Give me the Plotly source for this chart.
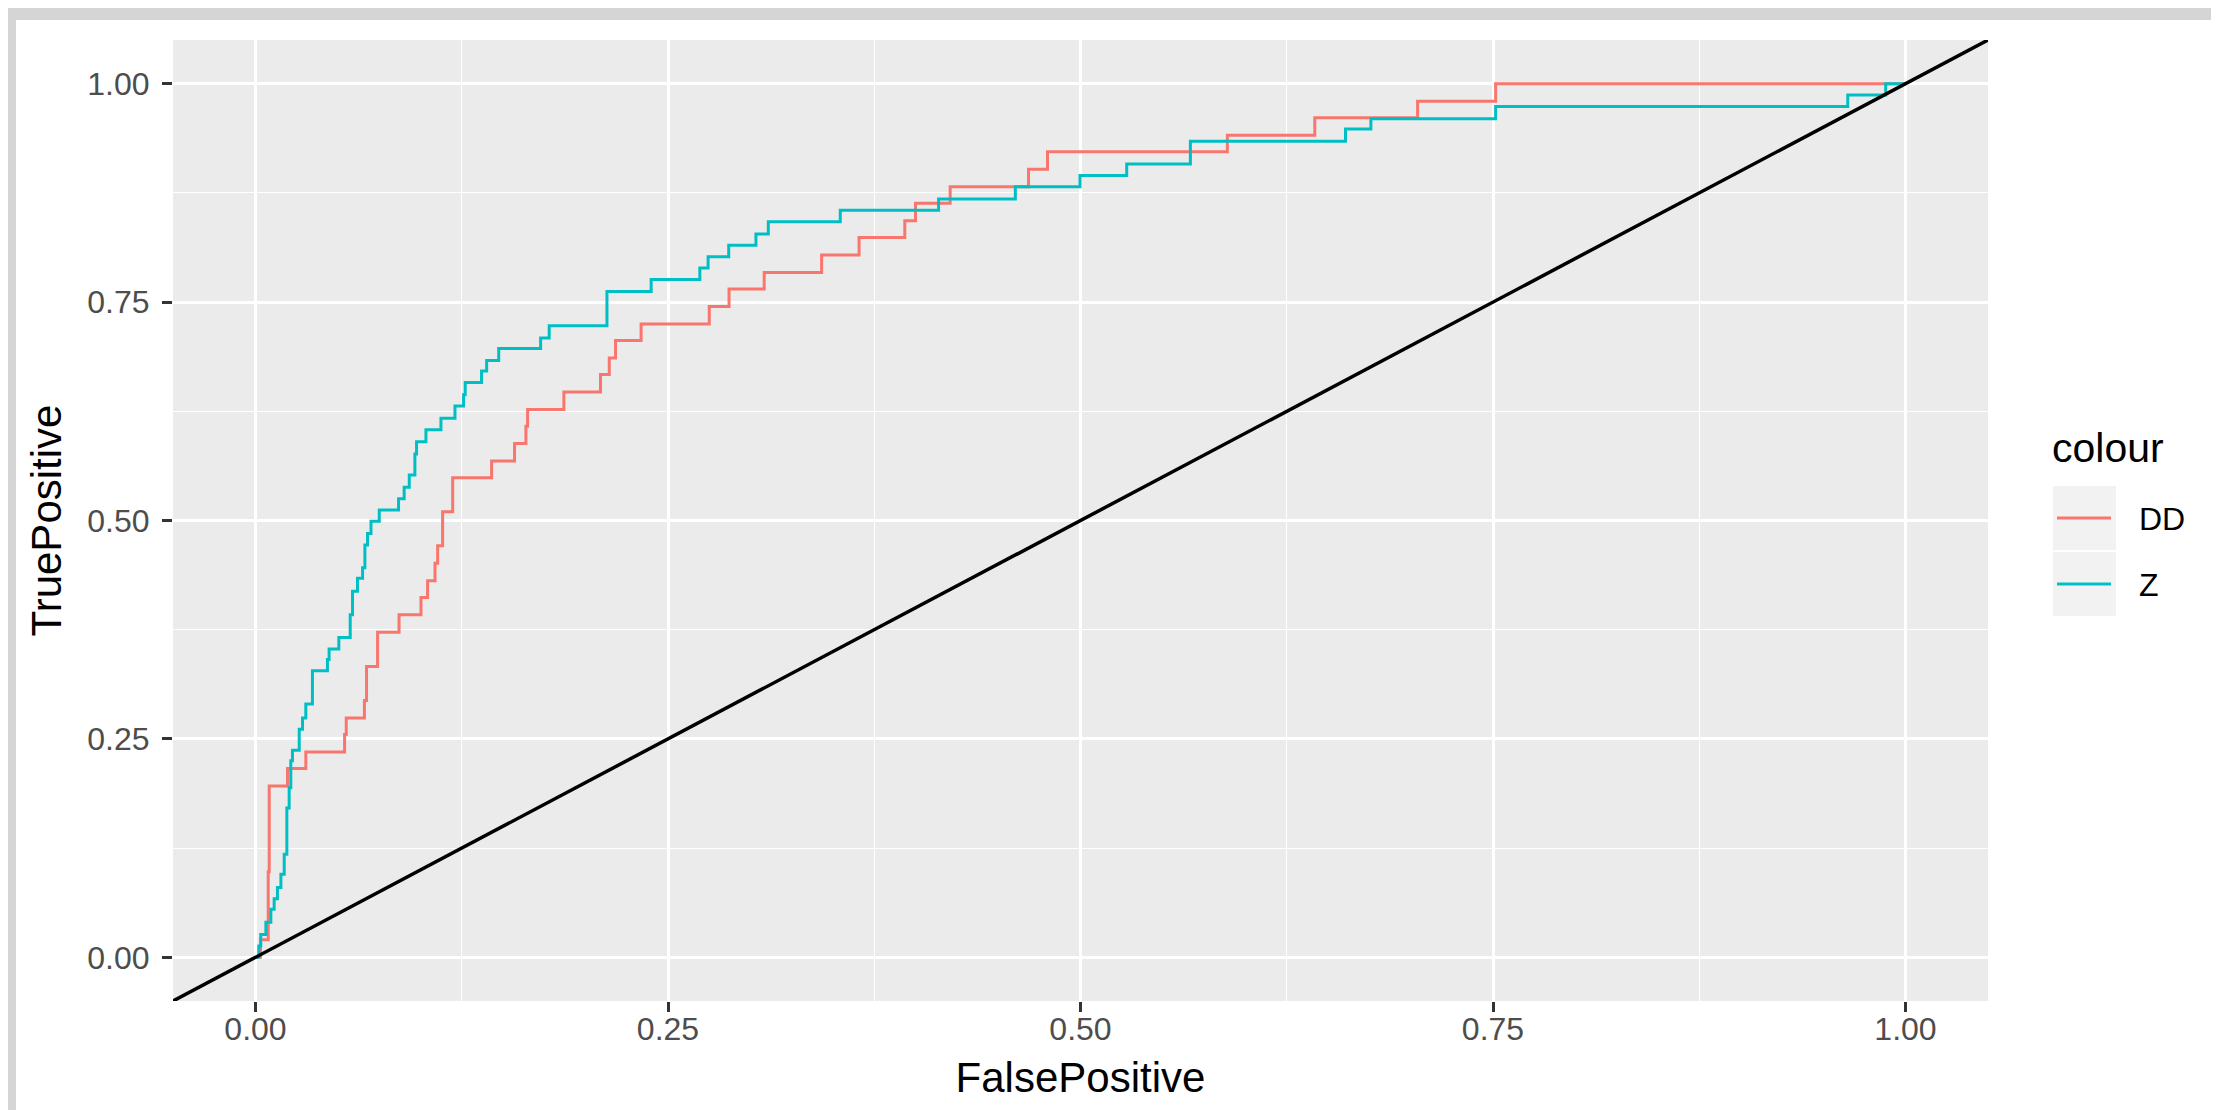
import plotly.graph_objects as go

# ---------------- data ----------------
DD_FPR = [0, 0.003, 0.0077, 0.0083, 0.0194, 0.0305, 0.054, 0.055, 0.066, 0.0673, 0.074, 0.087,
          0.1003, 0.1043, 0.1088, 0.1104, 0.1134, 0.1195, 0.1431, 0.157, 0.1639, 0.1649, 0.1869,
          0.2091, 0.2144, 0.2182, 0.2337, 0.275, 0.287, 0.3083, 0.3431, 0.3658, 0.3935, 0.400,
          0.421, 0.4685, 0.480, 0.589, 0.642, 0.7043, 0.7516, 1.0]
DD_TPR = [0, 0.020, 0.098, 0.196, 0.216, 0.235, 0.255, 0.274, 0.294, 0.333, 0.372, 0.392,
          0.412, 0.431, 0.451, 0.471, 0.510, 0.549, 0.568, 0.588, 0.608, 0.627, 0.647,
          0.667, 0.686, 0.706, 0.725, 0.745, 0.765, 0.784, 0.804, 0.824, 0.843, 0.863,
          0.882, 0.902, 0.922, 0.941, 0.961, 0.980, 1.0, 1.0]

Z_FPR = [0, 0.002, 0.0032, 0.0063, 0.0093, 0.0113, 0.0133, 0.0154, 0.0174, 0.019, 0.0204,
         0.0214, 0.0224, 0.0265, 0.0285, 0.0305, 0.0345, 0.0436, 0.0446, 0.0505, 0.0574,
         0.0588, 0.0618, 0.0649, 0.0663, 0.0679, 0.0700, 0.0750, 0.0867, 0.0901, 0.0932,
         0.0966, 0.0976, 0.1033, 0.1124, 0.1209, 0.1261, 0.1271, 0.1370, 0.1401, 0.1474,
         0.1728, 0.1780, 0.2130, 0.2398, 0.2693, 0.2743, 0.2868, 0.3033, 0.3108, 0.3544,
         0.4140, 0.4605, 0.4997, 0.5280, 0.5666, 0.6606, 0.6760, 0.7516, 0.9650, 0.9880, 1.0]
Z_TPR = [0, 0.013, 0.026, 0.040, 0.055, 0.067, 0.080, 0.095, 0.118, 0.171, 0.194,
         0.225, 0.237, 0.261, 0.274, 0.290, 0.328, 0.341, 0.353, 0.366, 0.392,
         0.419, 0.434, 0.446, 0.472, 0.485, 0.499, 0.512, 0.525, 0.538, 0.552,
         0.576, 0.590, 0.604, 0.617, 0.631, 0.644, 0.658, 0.671, 0.683, 0.697,
         0.709, 0.723, 0.762, 0.776, 0.789, 0.802, 0.815, 0.828, 0.842, 0.855,
         0.868, 0.882, 0.895, 0.908, 0.934, 0.948, 0.960, 0.974, 0.987, 1.0, 1.0]

SERIES_NAMES = ["DD", "Z"]
SERIES_COLORS = ["#F8766D", "#00BFC4"]
ABLINE_SLOPE = 1.0
ABLINE_INTERCEPT = 0.0

TICK_VALS = [0, 0.25, 0.5, 0.75, 1.0]
TICK_TEXT = ["0.00", "0.25", "0.50", "0.75", "1.00"]
MINOR_VALS = [0.125, 0.375, 0.625, 0.875]
AXIS_RANGE = [-0.05, 1.05]
X_TITLE = "FalsePositive"
Y_TITLE = "TruePositive"
LEGEND_TITLE = "colour"

# ---------------- layout geometry (pixels) ----------------
W, H = 2219, 1110
L, R, T, B = 165, 239, 32, 117
PW, PH = W - L - R, H - T - B
FONT = "Liberation Sans, Arial, sans-serif"


def px(xp):
    return (xp - L) / PW


def py(yp):
    return (H - B - yp) / PH


fig = go.Figure()
for name, xs, ys, col in [("DD", DD_FPR, DD_TPR, SERIES_COLORS[0]),
                          ("Z", Z_FPR, Z_TPR, SERIES_COLORS[1])]:
    fig.add_trace(go.Scatter(x=xs, y=ys, mode="lines", name=name,
                             line=dict(color=col, width=3, shape="hv"),
                             showlegend=False))

# abline y = slope*x + intercept across the whole panel
ab_x = AXIS_RANGE
ab_y = [ABLINE_SLOPE * v + ABLINE_INTERCEPT for v in ab_x]
fig.add_trace(go.Scatter(x=ab_x, y=ab_y, mode="lines", line=dict(color="black", width=3.5),
                         showlegend=False, hoverinfo="skip"))

axis_common = dict(
    range=AXIS_RANGE, tickmode="array", tickvals=TICK_VALS, ticktext=TICK_TEXT,
    showgrid=True, gridcolor="white", gridwidth=2.7, zeroline=False,
    ticks="outside", ticklen=10, tickwidth=2.5, tickcolor="#333333",
    tickfont=dict(family=FONT, size=32, color="#4D4D4D"),
    showline=False,
    minor=dict(tickmode="array", tickvals=MINOR_VALS, showgrid=True,
               gridcolor="white", gridwidth=1.3, ticks=""),
)
fig.update_xaxes(**axis_common, ticklabelstandoff=-10,
                 title=dict(text=X_TITLE, font=dict(family=FONT, size=42, color="black"), standoff=16))
fig.update_yaxes(**axis_common, ticklabelstandoff=6,
                 title=dict(text=Y_TITLE, font=dict(family=FONT, size=42, color="black"), standoff=12))

shapes = [
    # grey photo-like border strips around the white card
    dict(type="rect", xref="paper", yref="paper", x0=px(0), x1=px(W), y0=py(12), y1=py(0),
         fillcolor="#D5D5D5", line=dict(width=0), layer="below"),
    dict(type="rect", xref="paper", yref="paper", x0=px(0), x1=px(8), y0=py(H), y1=py(0),
         fillcolor="#D5D5D5", line=dict(width=0), layer="below"),
]
annotations = [
    dict(text=LEGEND_TITLE, xref="paper", yref="paper", x=px(2042), y=py(440),
         xanchor="left", yanchor="middle", showarrow=False,
         font=dict(family=FONT, size=41, color="black")),
]
key_tops = [478, 544]
for i, name in enumerate(SERIES_NAMES):
    top = key_tops[i]
    shapes.append(dict(type="rect", xref="paper", yref="paper",
                       x0=px(2045), x1=px(2108), y0=py(top + 64), y1=py(top),
                       fillcolor="#F2F2F2", line=dict(width=0)))
    shapes.append(dict(type="line", xref="paper", yref="paper",
                       x0=px(2049), x1=px(2103), y0=py(top + 32), y1=py(top + 32),
                       line=dict(color=SERIES_COLORS[i], width=3)))
    annotations.append(dict(text=name, xref="paper", yref="paper", x=px(2129), y=py(top + 33),
                            xanchor="left", yanchor="middle", showarrow=False,
                            font=dict(family=FONT, size=32, color="black")))

fig.update_layout(
    width=W, height=H,
    margin=dict(l=L, r=R, t=T, b=B, pad=0),
    paper_bgcolor="white", plot_bgcolor="#EBEBEB",
    font=dict(family=FONT),
    shapes=shapes, annotations=annotations,
    showlegend=False,
)

fig.write_html("out.html")
